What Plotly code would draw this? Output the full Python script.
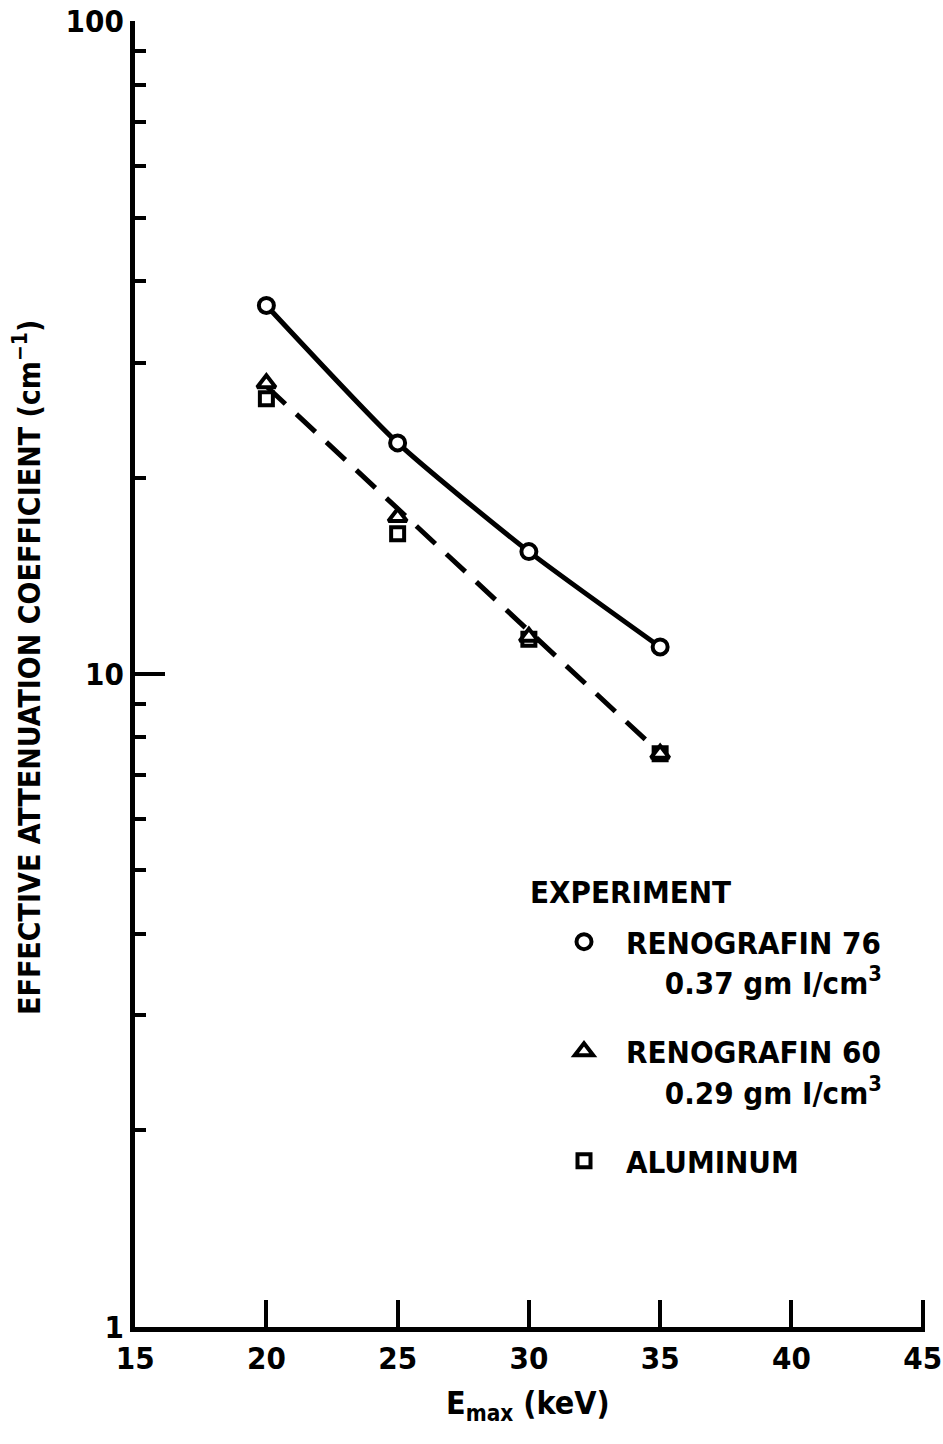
import plotly.graph_objects as go

# Maximum photon energy of each beam (keV)
energy_kev = [20, 25, 30, 35]

# Measured effective attenuation coefficients (cm^-1)
reno76_mu = [36.7, 22.6, 15.4, 11.0]
reno60_mu = [27.9, 17.4, 11.4, 7.55]
aluminum_mu = [26.4, 16.4, 11.3, 7.55]

# Straight fit drawn through the Renografin 60 / aluminum points
fit_energy = [20, 35]
fit_mu = [27.6, 7.56]

# Axis ticks
x_tick_vals = [15, 20, 25, 30, 35, 40, 45]
y_tick_vals = [1, 10, 100]
y_tick_text = ["1", "10", "100"]
y_minor_vals = [2, 3, 4, 5, 6, 7, 8, 9, 20, 30, 40, 50, 60, 70, 80, 90]

FONT = "DejaVu Sans Condensed, Liberation Sans Narrow, Liberation Sans, sans-serif"
INK = "black"

L, R, T, B = 135, 18, 21, 117
W, H = 943, 1444
PW, PH = W - L - R, H - T - B


def px_x(px):
    return (px - L) / PW


def px_y(py):
    return 1 - (py - T) / PH


fig = go.Figure()

# Curves
fig.add_trace(go.Scatter(
    x=energy_kev, y=reno76_mu, mode="lines",
    line=dict(color=INK, width=5, shape="spline", smoothing=0.6),
    showlegend=False, hoverinfo="skip"))
fig.add_trace(go.Scatter(
    x=fit_energy, y=fit_mu, mode="lines",
    line=dict(color=INK, width=5, dash="26px,15px"),
    showlegend=False, hoverinfo="skip"))

indent = "\u00a0" * 4
marker_line = dict(color=INK, width=4)

fig.add_trace(go.Scatter(
    x=energy_kev, y=aluminum_mu, mode="markers",
    name="ALUMINUM", legendgroup="c", legendrank=3,
    marker=dict(symbol="square", size=13, color="white", line=marker_line)))
fig.add_trace(go.Scatter(
    x=energy_kev, y=reno60_mu, mode="markers",
    name="RENOGRAFIN 60<br>" + indent + "0.29 gm I/cm<sup>3</sup>",
    legendgroup="b", legendrank=2,
    marker=dict(symbol="triangle-up", size=16, color="white", line=marker_line)))
fig.add_trace(go.Scatter(
    x=energy_kev, y=reno76_mu, mode="markers",
    name="RENOGRAFIN 76<br>" + indent + "0.37 gm I/cm<sup>3</sup>",
    legendgroup="a", legendrank=1,
    marker=dict(symbol="circle", size=15, color="white", line=marker_line)))

tick_font = dict(family=FONT, size=31, color=INK, weight="bold")
text_font = dict(family=FONT, size=31, color=INK, weight="bold")

fig.update_xaxes(
    range=[14.995, 45.09], tickmode="array", tickvals=x_tick_vals,
    ticks="inside", ticklen=27, tickwidth=4, tickcolor=INK,
    ticklabeloverflow="allow",
    showline=True, linewidth=5, linecolor=INK, mirror=False,
    showgrid=False, zeroline=False, tickfont=tick_font)

fig.update_yaxes(
    type="log", range=[-0.0005, 2.0005], tickmode="array",
    tickvals=y_tick_vals, ticktext=y_tick_text,
    ticks="inside", ticklen=30, tickwidth=4, tickcolor=INK,
    ticklabeloverflow="allow",
    minor=dict(ticks="inside", ticklen=11, tickwidth=4, tickcolor=INK,
               tickmode="array", tickvals=y_minor_vals, showgrid=False),
    showline=True, linewidth=5, linecolor=INK, mirror=False,
    showgrid=False, zeroline=False, tickfont=tick_font)

fig.update_layout(
    width=W, height=H,
    margin=dict(l=L, r=R, t=T, b=B, autoexpand=False),
    paper_bgcolor="white", plot_bgcolor="white",
    font=dict(family=FONT, color=INK),
    legend=dict(
        x=px_x(542), xanchor="left", y=px_y(915), yanchor="top",
        font=text_font,
        itemwidth=74, valign="top", tracegroupgap=26,
        traceorder="grouped", bgcolor="rgba(0,0,0,0)"),
    annotations=[
        dict(text="EXPERIMENT", xref="paper", yref="paper",
             x=px_x(528), y=px_y(892), xanchor="left", yanchor="middle",
             showarrow=False, font=text_font),
        dict(text="E<sub>max</sub> (keV)", xref="paper", yref="paper",
             x=px_x(528), y=px_y(1405), xanchor="center", yanchor="middle",
             showarrow=False, font=dict(family=FONT, size=32, color=INK, weight="bold")),
        dict(text="EFFECTIVE ATTENUATION COEFFICIENT (cm<sup>\u22121</sup>)",
             xref="paper", yref="paper", textangle=-90,
             x=px_x(27), y=px_y(668), xanchor="center", yanchor="middle",
             showarrow=False,
             font=dict(family=FONT, size=30, color=INK, weight="bold")),
    ],
)

fig.write_html("out.html")
